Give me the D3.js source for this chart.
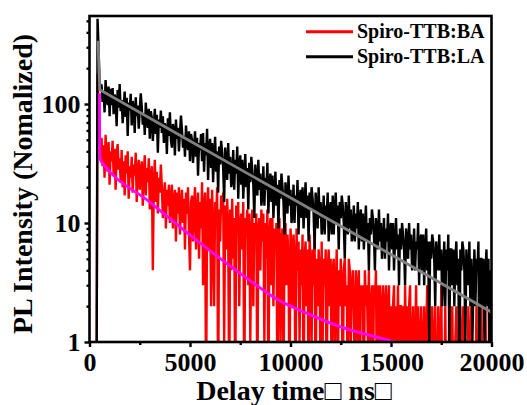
<!DOCTYPE html>
<html><head><meta charset="utf-8">
<script src="https://cdn.jsdelivr.net/npm/d3@7"></script>
<style>body{margin:0;background:#fff}svg{display:block}</style>
</head><body>
<svg id="chart" width="527" height="405"></svg>
<script>
// ---- data (normalized PL counts, time bins of 50 ns starting at 0 ns) ----
const timeStart = 0;
const timeStep = 50;
const seriesNames = ["Spiro-TTB:BA", "Spiro-TTB:LA"];
const seriesColors = ["#ff0000", "#000000"];
const fitColors = ["#ff00ff", "#808080"];

const baValues = [
0,0,0,0,0,0,0,0,180,90,50,44,
52,30,45,24,55,36,27,48,21,40,
33,49,25,42,19,38,46,28,35,22,
41,20,33,17,37,26,40,16,30,24,
36,18,31,25,39,15,28,34,19,27,
33,14,26,37,17,29,22,35,13,24,
30,4,21,34,15,27,12,24,18,31,
20,11,17,22,9,19,14,21,10,16,
21,9,15,19,7,18,12,20,8,14,
19,10,16,6,18,12,20,8,4,15,
17,7,14,20,6,12,18,5,15,9,
22,3,14,18,0,12,20,6,16,2,
19,8,2,15,11,20,0,13,7,17,
12,18,1,14,6,16,9,0,13,4,
16,5,11,0,14,8,15,2,10,12,
6,15,0,11,9,13,3,12,1,8,
13,2,10,7,12,0,9,11,4,13,
7,12,1,10,5,13,0,8,11,3,
11,2,9,6,10,0,8,11,1,7,
9,0,7,10,3,8,5,0,9,6,
2,8,5,0,9,4,7,1,6,3,
8,0,5,7,2,6,0,8,4,1,
6,3,7,0,5,2,6,4,0,7,
1,5,3,6,0,4,6,2,5,0,
4,5,1,3,6,0,4,2,5,3,
0,4,5,2,3,0,5,4,1,3,
4,2,0,4,3,1,4,0,3,2,
3,0,4,2,3,1,4,0,2,3,
0,3,2,4,0,3,1,3,2,0,
3,1,2,3,0,2,3,0,2,1,
2,3,0,2,1,3,0,2,2,0,
2,0,3,1,2,0,2,3,0,1,
2,0,1,3,0,2,1,0,2,1,
0,2,0,1,3,0,2,0,1,2,
0,1,2,0,0,2,1,0,3,0,
1,0,2,0,1,0,2,1,0,2,
0,0,1,2,0,1,0,2,0,1,
2,0,1,0,0,2,0,1,2,0,
0,1,0,2,0,0,1,0,2,0,
1,0,2,0,1,0,0,3,0];

const laValues = [
0,0,0,0,0,0,0,0,520,300,155,140,
146,104,128,85,159,116,98,140,79,134,
98,136,82,120,109,65,131,93,147,87,
108,69,93,127,78,113,54,103,88,122,
66,106,92,57,114,79,97,62,88,123,
95,67,83,55,103,75,63,91,51,87,
77,49,67,91,56,81,39,74,63,88,
57,79,47,69,63,38,76,54,85,50,
43,68,60,37,74,51,63,40,57,80,
61,43,54,36,66,48,41,59,33,56,
50,32,43,59,36,52,25,47,41,56,
33,57,27,47,37,62,23,43,51,29,
47,22,37,53,27,40,18,44,31,49,
39,29,15,43,33,23,47,26,36,20,
23,41,19,34,26,44,16,31,37,21,
34,16,26,38,20,29,13,32,22,36,
28,21,11,31,24,17,34,19,26,14,
17,30,14,24,19,32,12,22,26,15,
25,11,19,27,14,21,9,23,16,26,
20,15,8,22,17,12,25,14,19,10,
12,21,10,17,14,23,8,16,19,11,
20,9,15,22,11,17,7,18,13,20,
16,12,6,18,14,9,20,11,15,8,
10,17,8,14,11,18,7,13,15,8,
17,8,13,18,10,14,6,15,11,17,
14,10,5,15,11,8,17,9,13,7,
8,14,7,12,9,15,6,11,13,7,
12,6,9,14,7,10,4,11,8,13,
11,8,4,11,9,6,13,7,10,5,
7,11,5,9,7,12,4,9,10,6,
10,4,7,11,6,8,3,9,6,10,
8,6,3,9,7,5,10,6,8,4,
5,9,4,7,6,10,3,7,8,4,
8,3,6,9,4,7,1,7,5,8,
7,5,2,7,5,4,8,4,6,2,
4,7,2,6,4,8,1,6,6,3,
6,2,5,7,3,5,0,6,4,7,
6,4,1,6,4,3,7,2,5,1,
3,6,2,5,4,7,0,5,5,2,
5,1,4,6,2,5,0,4,3];

// fitted decay curves (time ns, value)
const baFitTime  = [495, 510, 560, 650, 3000, 5500, 7500, 9400, 11000, 12500, 15000, 17000];
const baFitValue = [123, 40, 33.5, 31.9, 15, 6.79, 3.77, 2.25, 1.69, 1.34, 1.02, 0.8];
const laFitTime  = [430, 470, 510, 5000, 10000, 15000, 20000];
const laFitValue = [340, 190, 132, 48.9, 16.3, 5.44, 1.78];

const xTickValues = [0, 5000, 10000, 15000, 20000];
const xMinorTicks = [2500, 7500, 12500, 17500];
const yTickValues = [1, 10, 100];
const yMinorTicks = [2,3,4,5,6,7,8,9,20,30,40,50,60,70,80,90,200,300,400,500];
const xTitle = "Delay time\u25A1 ns\u25A1";
const yTitle = "PL Intensity (Nomalized)";

// ---- drawing ----
const svg = d3.select("#chart");
const pLeft = 89.5, pRight = 491.5, pTop = 16, pBottom = 342;
const x = d3.scaleLinear().domain([0, 20000]).range([pLeft, pRight]);
const y = d3.scaleLog().domain([1, 549]).range([pBottom, pTop]);
const font = "'Liberation Serif','Times New Roman',serif";

svg.append("defs").append("clipPath").attr("id", "clip")
  .append("rect").attr("x", pLeft).attr("y", pTop).attr("width", pRight - pLeft).attr("height", pBottom - pTop);

const toPts = vals => vals.map((v, i) => ({t: timeStart + i * timeStep, v}));
const dataLine = d3.line().x(d => x(d.t)).y(d => y(Math.max(d.v, 0.3)));
const plot = svg.append("g").attr("clip-path", "url(#clip)");

[baValues, laValues].forEach((vals, k) => {
  plot.append("path").datum(toPts(vals))
    .attr("d", dataLine).attr("fill", "none")
    .attr("stroke", seriesColors[k]).attr("stroke-width", 2.4);
});

const fitLineSmooth = d3.line().x(d => x(d.t)).y(d => y(d.v)).curve(d3.curveMonotoneX);
const fitLineStraight = d3.line().x(d => x(d.t)).y(d => y(d.v));
plot.append("path").datum(baFitTime.map((t, i) => ({t, v: baFitValue[i]})))
  .attr("d", fitLineSmooth).attr("fill", "none").attr("stroke", fitColors[0]).attr("stroke-width", 2.8);
plot.append("path").datum(laFitTime.map((t, i) => ({t, v: laFitValue[i]})))
  .attr("d", fitLineStraight).attr("fill", "none").attr("stroke", fitColors[1]).attr("stroke-width", 2.8);

// frame
svg.append("rect").attr("x", pLeft).attr("y", pTop).attr("width", pRight - pLeft).attr("height", pBottom - pTop)
  .attr("fill", "none").attr("stroke", "#000").attr("stroke-width", 2.6);

// axes
const xAxis = d3.axisBottom(x).tickValues(xTickValues).tickSize(5).tickPadding(6).tickFormat(d3.format("d"));
const yAxis = d3.axisLeft(y).tickValues(yTickValues).tickSize(5).tickPadding(4).tickFormat(d3.format("d"));
const gx = svg.append("g").attr("transform", `translate(0,${pBottom})`).call(xAxis);
const gy = svg.append("g").attr("transform", `translate(${pLeft},0)`).call(yAxis);
svg.append("g").attr("transform", `translate(0,${pBottom})`)
  .call(d3.axisBottom(x).tickValues(xMinorTicks).tickSize(3).tickFormat(""));
svg.append("g").attr("transform", `translate(${pLeft},0)`)
  .call(d3.axisLeft(y).tickValues(yMinorTicks).tickSize(3).tickFormat(""));
svg.selectAll(".domain").remove();
svg.selectAll(".tick line").attr("stroke", "#000").attr("stroke-width", 2.4);
[gx, gy].forEach(g => g.selectAll("text")
  .attr("font-family", font).attr("font-weight", "bold").attr("font-size", 26).attr("fill", "#000"));

// titles
svg.append("text").attr("x", 294).attr("y", 400).attr("text-anchor", "middle")
  .attr("font-family", font).attr("font-weight", "bold").attr("font-size", 28).text(xTitle);
svg.append("text").attr("transform", "translate(32,184) rotate(-90)").attr("text-anchor", "middle")
  .attr("font-family", font).attr("font-weight", "bold").attr("font-size", 28).text(yTitle);

// legend
seriesNames.forEach((name, k) => {
  const ly = 31.7 + k * 25;
  svg.append("line").attr("x1", 306).attr("x2", 353).attr("y1", ly).attr("y2", ly)
    .attr("stroke", seriesColors[k]).attr("stroke-width", 3);
  svg.append("text").attr("x", 357).attr("y", ly + 6.7)
    .attr("font-family", font).attr("font-weight", "bold").attr("font-size", 20).text(name);
});
</script>
</body></html>
